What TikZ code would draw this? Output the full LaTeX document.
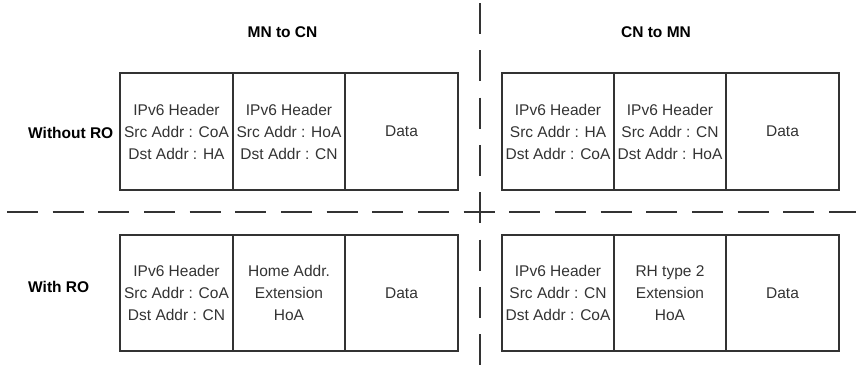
\documentclass[tikz,border=0pt]{standalone}
\usepackage{fontspec}
\setmainfont{Liberation Sans}
\definecolor{linec}{HTML}{333333}
\definecolor{textc}{HTML}{333333}
\begin{document}
\begin{tikzpicture}[x=1pt,y=-1pt,
  cell/.style={draw=linec, line width=1.1pt, inner sep=0pt, align=center,
    text=textc, font=\fontsize{15.5}{22}\selectfont},
  title/.style={font=\fontsize{15.5}{18}\selectfont\bfseries, text=black, inner sep=0pt},
  sep/.style={draw=linec, line width=2pt}]
\useasboundingbox (0,0) rectangle (856,365);
% titles
\node[title] (t1) at (282.5,32) {MN to CN};
\node[title] (t2) at (656,32) {CN to MN};
\node[title, anchor=west] (r1) at (28,133) {Without RO};
\node[title, anchor=west] (r2) at (28,287) {With RO};
% row 1 left
\node[cell, minimum width=113pt, minimum height=117pt] (a1) at (176.5,131.5) {IPv6 Header\\Src Addr : CoA\\Dst Addr : HA};
\node[cell, minimum width=112pt, minimum height=117pt] (a2) at (289,131.5) {IPv6 Header\\Src Addr : HoA\\Dst Addr : CN};
\node[cell, minimum width=113pt, minimum height=117pt] (a3) at (401.5,131.5) {Data};
% row 1 right
\node[cell, minimum width=112pt, minimum height=117pt] (b1) at (558,131.5) {IPv6 Header\\Src Addr : HA\\Dst Addr : CoA};
\node[cell, minimum width=112pt, minimum height=117pt] (b2) at (670,131.5) {IPv6 Header\\Src Addr : CN\\Dst Addr : HoA};
\node[cell, minimum width=113pt, minimum height=117pt] (b3) at (782.5,131.5) {Data};
% row 2 left
\node[cell, minimum width=113pt, minimum height=116pt] (c1) at (176.5,293) {IPv6 Header\\Src Addr : CoA\\Dst Addr : CN};
\node[cell, minimum width=112pt, minimum height=116pt] (c2) at (289,293) {Home Addr.\\Extension\\HoA};
\node[cell, minimum width=113pt, minimum height=116pt] (c3) at (401.5,293) {Data};
% row 2 right
\node[cell, minimum width=112pt, minimum height=116pt] (d1) at (558,293) {IPv6 Header\\Src Addr : CN\\Dst Addr : CoA};
\node[cell, minimum width=112pt, minimum height=116pt] (d2) at (670,293) {RH type 2\\Extension\\HoA};
\node[cell, minimum width=113pt, minimum height=116pt] (d3) at (782.5,293) {Data};
% separators
\coordinate (h0) at (7,212);
\coordinate (h1) at (856,212);
\coordinate (v0) at (479.5,3);
\coordinate (v1) at (479.5,365);
\draw[sep, dash pattern=on 31pt off 14.67pt] (h0) -- (h1);
\draw[sep, dash pattern=on 31pt off 16.3pt] (v0) -- (v1);
\end{tikzpicture}
\end{document}
